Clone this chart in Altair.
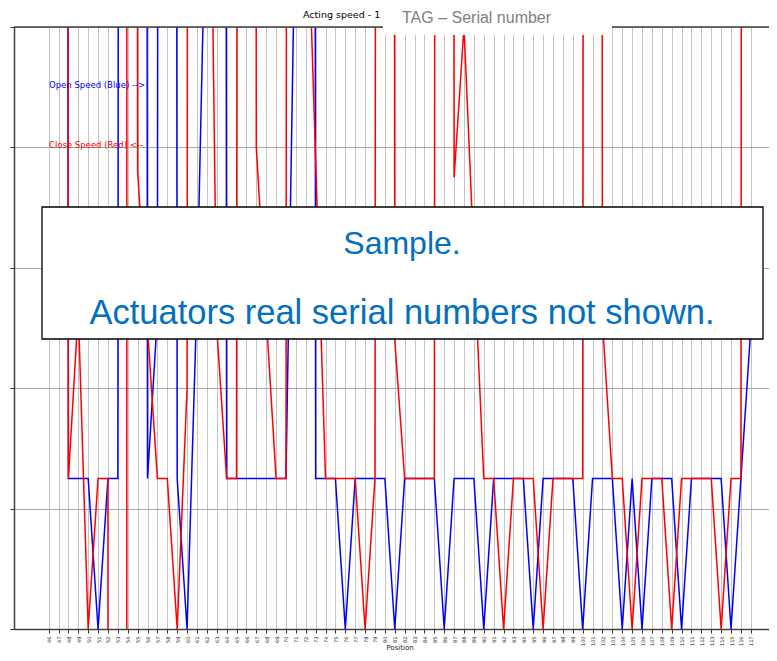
import altair as alt
import pandas as pd

# ---- data -----------------------------------------------------------------
positions = list(range(46, 118))
HI = 2000      # off-scale (clipped above the plot)
LO = -20000    # off-scale (clipped below the plot)

open_speed = [
    HI, HI, 25, 25, 25, 0, 25, 25, HI, HI,      # 46-55
    25, 52, HI, 25, 0, 55, 130, HI, 25, 25,     # 56-65
    25, 25, 25, 25, 25, 125, HI, 25, 25, 25,    # 66-75
    0, 25, 25, 25, 25, 0, 25, 25, 25, 25,       # 76-85
    0, 25, 25, 25, 0, 25, 25, 25, 25, 0,        # 86-95
    25, 25, 25, 25, 0, 25, 25, 25, 0, 25,       # 96-105
    0, 25, 25, 25, 0, 25, 25, 25, 25, 0,        # 106-115
    25, 50,                                     # 116-117
]
close_speed = [
    HI, HI, 25, 53, 0, 25, 25, LO, HI, 76,      # 46-55
    50, 25, 25, 0, 40, HI, 180, 50, 25, 25,     # 56-65
    HI, 80, 52, 25, 25, HI, 130, 78, 25, 25,    # 66-75
    25, 25, 0, 25, HI, 48, 25, 25, 25, 25,      # 76-85
    HI, 75, 100, 62, 25, 25, 0, 25, 25, 25,     # 86-95
    0, 25, 25, 25, 25, HI, 51, 25, 25, 0,       # 96-105
    25, 25, 25, 0, 25, 25, 25, 25, 0, 25,       # 106-115
    25, HI,                                     # 116-117
]
y_ticks = [0, 20, 40, 60, 80, 100]

title_text = "Acting speed - 1"
tag_text = "TAG \u2013 Serial number"
open_label = "Open Speed (Blue) -->"
close_label = "Close Speed (Red) <--"
sample_lines = ["Sample.", "Actuators real serial numbers not shown."]
x_title = "Position"

df_open = pd.DataFrame({"Position": positions, "Speed": open_speed})
df_close = pd.DataFrame({"Position": positions, "Speed": close_speed})
one = pd.DataFrame({"k": [0]})

W, H = 755, 602
FONT = "DejaVu Sans"

x_enc = alt.X(
    "Position:Q",
    scale=alt.Scale(domain=[42.5, 118.84], nice=False, zero=False),
    axis=alt.Axis(
        values=positions, title=None, grid=True, gridColor="#c4c4c4", gridWidth=1,
        tickColor="#333333", tickSize=4, tickWidth=1,
        labelAngle=-90, labelFontSize=5, labelColor="#222222", labelFont=FONT,
        labelPadding=3, labelOverlap=False, labelFlush=False,
        domainColor="#404040", domainWidth=1.5,
    ),
)
y_enc = alt.Y(
    "Speed:Q",
    scale=alt.Scale(domain=[0, 100], nice=False, zero=False),
    axis=alt.Axis(
        values=y_ticks, title=None, grid=True, gridColor="#a8a8a8", gridWidth=1,
        labels=False, tickColor="#333333", tickSize=4, tickWidth=1,
        domainColor="#404040", domainWidth=1.5,
    ),
)

blue = alt.Chart(df_open).mark_line(color="#0000FF", strokeWidth=1.5, clip=True).encode(
    x=x_enc, y=y_enc, order="Position:Q"
)
red = alt.Chart(df_close).mark_line(color="#FF0000", strokeWidth=1.5, clip=True).encode(
    x=x_enc, y=y_enc, order="Position:Q"
)

top_border = alt.Chart(one).mark_rule(color="#404040", strokeWidth=1.5).encode(
    y=alt.datum(100)
)

open_txt = alt.Chart(one).mark_text(
    text=open_label, color="#0000FF", font=FONT, fontSize=8.5, align="left", baseline="middle"
).encode(x=alt.value(35), y=alt.value(58))
close_txt = alt.Chart(one).mark_text(
    text=close_label, color="#FF0000", font=FONT, fontSize=8.5, align="left", baseline="middle"
).encode(x=alt.value(35), y=alt.value(118))

title_mark = alt.Chart(one).mark_text(
    text=title_text, color="#000000", font=FONT, fontSize=9.5, align="left", baseline="middle"
).encode(x=alt.value(289), y=alt.value(-12))

tag_box = alt.Chart(one).mark_rect(fill="#FFFFFF", stroke=None).encode(
    x=alt.value(369), x2=alt.value(598), y=alt.value(-19), y2=alt.value(8)
)
tag_txt = alt.Chart(one).mark_text(
    text=tag_text, color="#808080", font="Liberation Sans", fontSize=16,
    align="left", baseline="middle"
).encode(x=alt.value(388), y=alt.value(-9))

sample_box = alt.Chart(one).mark_rect(fill="#FFFFFF", stroke="#000000", strokeWidth=1.3).encode(
    x=alt.value(28), x2=alt.value(749), y=alt.value(180), y2=alt.value(312)
)
sample1 = alt.Chart(one).mark_text(
    text=sample_lines[0], color="#0070C0", font="Liberation Sans", fontSize=32,
    align="center", baseline="middle"
).encode(x=alt.value(388), y=alt.value(217))
sample2 = alt.Chart(one).mark_text(
    text=sample_lines[1], color="#0070C0", font="Liberation Sans", fontSize=34.5,
    align="center", baseline="middle"
).encode(x=alt.value(388), y=alt.value(287))

pos_title = alt.Chart(one).mark_text(
    text=x_title, color="#222222", font=FONT, fontSize=7, align="center", baseline="top"
).encode(x=alt.value(386), y=alt.value(617))

chart = alt.layer(
    blue, red, top_border, open_txt, close_txt, title_mark,
    tag_box, tag_txt, sample_box, sample1, sample2, pos_title,
).properties(
    width=W, height=H,
    autosize=alt.AutoSizeParams(type="none"),
    padding={"left": 6, "top": 19, "right": 0, "bottom": 24},
).configure_view(stroke=None).configure(background="#FFFFFF")

chart.save("out.html", embed_options={"renderer": "svg", "actions": False})
